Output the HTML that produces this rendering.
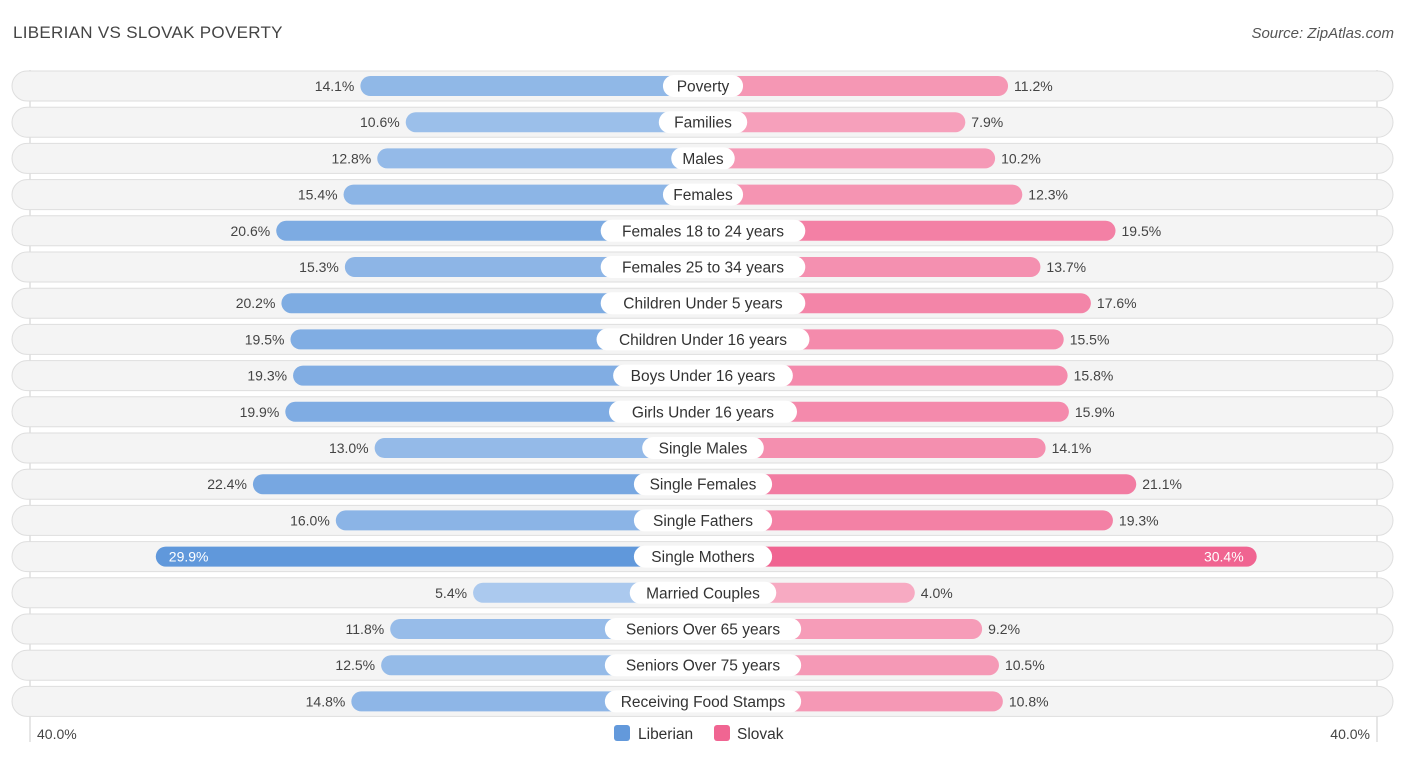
<!DOCTYPE html>
<html><head><meta charset="utf-8"><style>
body{margin:0;background:#fff;font-family:"Liberation Sans",Arial,sans-serif;}
#wrap{position:relative;width:1406px;height:758px;overflow:hidden;}
.title{position:absolute;left:13px;top:23px;font-size:17px;color:#444;letter-spacing:0.3px}
.src{position:absolute;right:12px;top:25px;font-size:15px;color:#555;font-style:italic}
</style></head><body>
<div id="wrap">
<div class="title">LIBERIAN VS SLOVAK POVERTY</div>
<div class="src">Source: ZipAtlas.com</div>
<svg id="svg" width="1406" height="758" style="position:absolute;left:0;top:0"></svg>
</div>
<script>
const categories=["Poverty","Families","Males","Females","Females 18 to 24 years","Females 25 to 34 years","Children Under 5 years","Children Under 16 years","Boys Under 16 years","Girls Under 16 years","Single Males","Single Females","Single Fathers","Single Mothers","Married Couples","Seniors Over 65 years","Seniors Over 75 years","Receiving Food Stamps"];
const liberian=[14.1,10.6,12.8,15.4,20.6,15.3,20.2,19.5,19.3,19.9,13.0,22.4,16.0,29.9,5.4,11.8,12.5,14.8];
const slovak=[11.2,7.9,10.2,12.3,19.5,13.7,17.6,15.5,15.8,15.9,14.1,21.1,19.3,30.4,4.0,9.2,10.5,10.8];
const axisLabels=["40.0%","40.0%"];
const NS="http://www.w3.org/2000/svg";
const svg=document.getElementById('svg');
const cx=703;
function w(v){return 160+12.95*v;}
function y(i){return 86+i*36.2;}
function mk(t,a,p){const e=document.createElementNS(NS,t);for(const k in a)e.setAttribute(k,a[k]);(p||svg).appendChild(e);return e;}
function mix(a,b,t){return 'rgb('+a.map((x,i)=>Math.round(x+(b[i]-x)*t)).join(',')+')';}
mk('line',{x1:30,y1:70,x2:30,y2:742,stroke:'#ccc','stroke-width':1});
mk('line',{x1:1377,y1:70,x2:1377,y2:742,stroke:'#ccc','stroke-width':1});
categories.forEach((c,i)=>{
  const yc=y(i);
  const g=mk('g',{});
  
  
  const bg=mk('rect',{x:12,y:yc-15,width:1381,height:30,rx:15,fill:'#f4f4f4',stroke:'#dedede','stroke-width':1},g);
  
  
  const lv=liberian[i],sv=slovak[i];
  const tl=Math.min(1,Math.max(0,(lv-5)/25)),ts=Math.min(1,Math.max(0,(sv-4)/26));
  const lb=mk('rect',{x:cx-w(lv),y:yc-10,width:w(lv),height:20,rx:10,fill:mix([172,202,238],[96,152,219],tl)},g);
  
  
  const sb=mk('rect',{x:cx,y:yc-10,width:w(sv),height:20,rx:10,fill:mix([247,170,194],[240,100,145],ts)},g);
  
  
  const inside=i===13;
  const lt=mk('text',{x:inside?cx-w(lv)+13:cx-w(lv)-6,y:yc+5,'font-size':14,fill:inside?'#fff':'#444','text-anchor':inside?'start':'end'},g);
  lt.textContent=lv.toFixed(1)+'%';
  
  
  const st=mk('text',{x:inside?cx+w(sv)-13:cx+w(sv)+6,y:yc+5,'font-size':14,fill:inside?'#fff':'#444','text-anchor':inside?'end':'start'},g);
  st.textContent=sv.toFixed(1)+'%';
  
  
  const tw=c.length*8.3+22;
  const pill=mk('rect',{x:cx-tw/2,y:yc-11,width:tw,height:22,rx:11,fill:'#fff'},g);
  
  
  const ct=mk('text',{x:cx,y:yc+5.5,'font-size':15.5,fill:'#333','text-anchor':'middle'},g);
  ct.textContent=c;
  
  
});
const a1=mk('text',{x:37,y:739,'font-size':14,fill:'#444'});a1.textContent=axisLabels[0];


const a2=mk('text',{x:1370,y:739,'font-size':14,fill:'#444','text-anchor':'end'});a2.textContent=axisLabels[1];


const l1=mk('rect',{x:614,y:725,width:16,height:16,rx:3,fill:'#6399db'});


const lt1=mk('text',{x:638,y:739,'font-size':15.5,fill:'#333'});lt1.textContent='Liberian';


const l2=mk('rect',{x:714,y:725,width:16,height:16,rx:3,fill:'#f06592'});


const lt2=mk('text',{x:737,y:739,'font-size':15.5,fill:'#333'});lt2.textContent='Slovak';


</script>
</body></html>
